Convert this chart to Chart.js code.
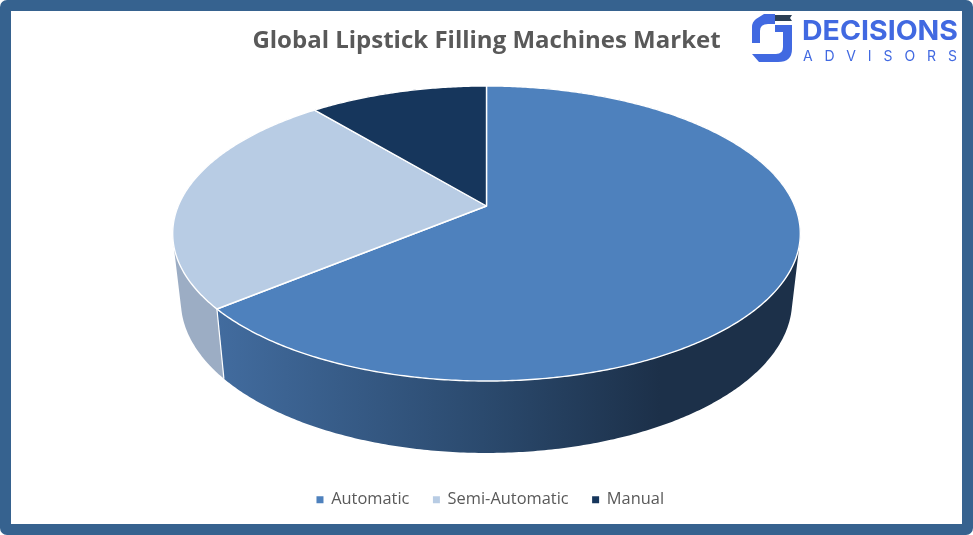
<!DOCTYPE html>
<html>
<head>
<meta charset="utf-8">
<title>Global Lipstick Filling Machines Market</title>
<style>
    html, body { margin: 0; padding: 0; background: #fff; overflow: hidden; }
    #frame { position: absolute; left: 0; top: 0; width: 973px; height: 535px; box-sizing: border-box;
             border: 11px solid #36628f; border-radius: 7px; background: #fff; }
    #marketChart { position: absolute; left: 0; top: 0; }
    #logo { position: absolute; left: 0; top: 0; }
</style>
</head>
<body>
<div id="frame"></div>
<canvas id="marketChart" width="973" height="535"></canvas>
<svg id="logo" width="973" height="80" viewBox="0 0 973 80">
    <path fill="#4169e1" d="M764 14 H775 V24 H768 Q760 24 760 31 V43 H752 V27 Q752 22 756 19 Z"/>
    <path fill="#4169e1" d="M775 25 H792 V49 Q792 62 778 62 H759 L752 54 H776 Q783 54 783 47 V32 H775 Z"/>
    <path fill="#2a3f55" d="M775 15 H792 L790 18 L792 21 H775 Z"/>
    <text x="802" y="39.5" font-family="Inter" font-weight="700" font-size="27" fill="#4169e1"
          textLength="156" lengthAdjust="spacingAndGlyphs">DECISIONS</text>
    <text x="803" y="61" font-family="Inter" font-weight="400" font-size="14" fill="#4169e1"
          textLength="154" lengthAdjust="spacing">ADVISORS</text>
</svg>
<script src="https://cdn.jsdelivr.net/npm/chart.js@4/dist/chart.umd.min.js"></script>
<script>
const categories = ['Automatic', 'Semi-Automatic', 'Manual'];
const shares = [64, 25, 11];
const sliceColors = ['#4e81bd', '#b8cce4', '#16365c'];
const titleText = 'Global Lipstick Filling Machines Market';

// perspective of the tilted pie, the apex is not the middle of the ellipse
const view = { cx: 486.5, apexY: 206, R: 308.3, a: -142.4, c: 0.1864, midY: 233.5 };

function topPoint(angle) {
    const u = Math.cos(angle), v = -Math.sin(angle);
    const w = 1 + view.c * v;
    return { x: view.cx + view.R * u / w, y: view.apexY + view.a * v / w };
}

function bottomPoint(angle) {
    const p = topPoint(angle);
    return { x: view.cx + (p.x - view.cx) * 0.974, y: view.midY + 67.5 + (p.y - view.midY) * 1.03 };
}

function sampleAngles(start, end) {
    const steps = Math.max(2, Math.ceil((end - start) / 0.01));
    const out = [];
    for (let i = 0; i <= steps; i++) out.push(start + (end - start) * i / steps);
    return out;
}

function wallFill(ctx, index) {
    const g = ctx.createLinearGradient(215, 0, 660, 0);
    if (index === 0) {
        g.addColorStop(0, '#426c9f');
        g.addColorStop(0.6, '#2b4a6e');
        g.addColorStop(1, '#1c3049');
    } else if (index === 1) {
        g.addColorStop(0, '#9cadc4');
        g.addColorStop(1, '#9cadc4');
    } else {
        g.addColorStop(0, '#10263f');
        g.addColorStop(1, '#10263f');
    }
    return g;
}

// same winding for every quad so one fill covers them all without seams
function addQuad(ctx, pts) {
    let area = 0;
    pts.forEach((p, i) => {
        const q = pts[(i + 1) % pts.length];
        area += p.x * q.y - q.x * p.y;
    });
    const ordered = area < 0 ? pts.slice().reverse() : pts;
    ctx.moveTo(ordered[0].x, ordered[0].y);
    ordered.slice(1).forEach(p => ctx.lineTo(p.x, p.y));
    ctx.closePath();
}

// draws the arcs chart.js has laid out as a 3D pie, angles come from the arc elements
const pie3d = {
    id: 'pie3d',
    afterLayout(chart) {
        // legend sits a little right of the page centre in the original
        chart.legend.left += 4;
        chart.legend.right += 4;
    },
    beforeDatasetDraw(chart, args) {
        const ctx = chart.ctx;
        const arcs = args.meta.data;
        ctx.save();

        // side walls, back slices first
        [2, 1, 0].forEach(i => {
            const angles = sampleAngles(arcs[i].startAngle, arcs[i].endAngle);
            ctx.beginPath();
            for (let n = 0; n < angles.length - 1; n++) {
                addQuad(ctx, [
                    topPoint(angles[n]),
                    topPoint(angles[n + 1]),
                    bottomPoint(angles[n + 1]),
                    bottomPoint(angles[n]),
                ]);
            }
            ctx.fillStyle = wallFill(ctx, i);
            ctx.fill();
        });

        // seam between walls, only where it faces us
        arcs.forEach(arc => {
            if (Math.sin(arc.endAngle) <= 0) return;
            const a = topPoint(arc.endAngle), b = bottomPoint(arc.endAngle);
            ctx.beginPath();
            ctx.moveTo(a.x, a.y);
            ctx.lineTo(b.x, b.y);
            ctx.strokeStyle = '#ffffff';
            ctx.lineWidth = 1.2;
            ctx.stroke();
        });

        // top face
        arcs.forEach((arc, i) => {
            ctx.beginPath();
            ctx.moveTo(view.cx, view.apexY);
            sampleAngles(arc.startAngle, arc.endAngle).forEach(t => {
                const p = topPoint(t);
                ctx.lineTo(p.x, p.y);
            });
            ctx.closePath();
            ctx.fillStyle = sliceColors[i];
            ctx.fill();
            ctx.strokeStyle = '#ffffff';
            ctx.lineWidth = 1.4;
            ctx.lineJoin = 'round';
            ctx.stroke();
        });

        ctx.restore();
        return false;
    },
};

const ctx = document.getElementById('marketChart').getContext('2d');
const marketChart = new Chart(ctx, {
    type: 'pie',
    data: {
        labels: categories,
        datasets: [{
            data: shares,
            backgroundColor: sliceColors,
        }],
    },
    options: {
        responsive: false,
        animation: false,
        layout: { padding: { top: 27, bottom: 17 } },
        plugins: {
            title: {
                display: true,
                text: titleText,
                color: '#595959',
                font: { family: 'Open Sans', size: 24, weight: 'bold' },
                padding: { top: 0, bottom: 10 },
            },
            legend: {
                position: 'bottom',
                labels: {
                    color: '#595959',
                    font: { family: 'Open Sans', size: 16.4 },
                    usePointStyle: true,
                    pointStyle: 'rect',
                    boxWidth: 6,
                    boxHeight: 9,
                    padding: 24,
                },
            },
            tooltip: { enabled: false },
        },
    },
    plugins: [pie3d],
});
</script>
</body>
</html>
